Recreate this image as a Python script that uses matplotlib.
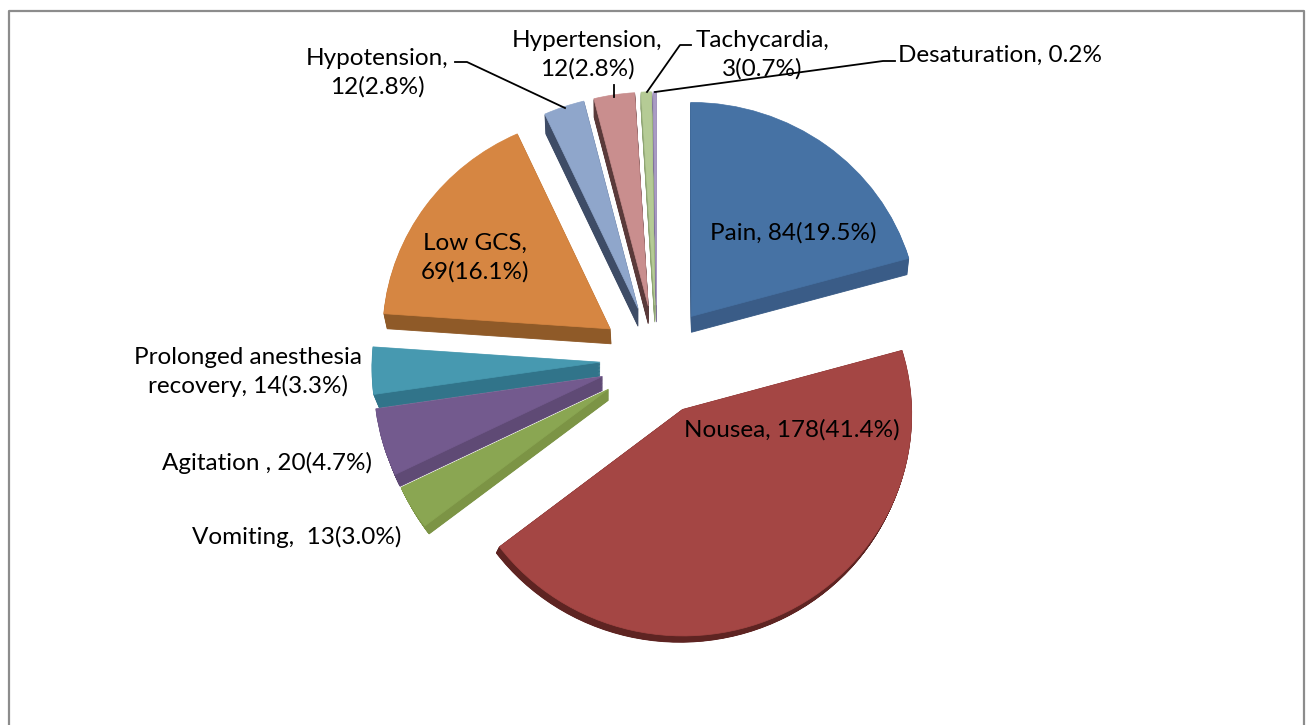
import matplotlib
matplotlib.use('Agg')
import numpy as np
import matplotlib.pyplot as plt
from matplotlib.transforms import Transform

plt.rcParams['font.family'] = ['Lato', 'DejaVu Sans']

# counts shown on the labels, the slices follow these
categories = ['Pain', 'Nousea', 'Vomiting', 'Agitation', 'Prolonged anesthesia recovery',
              'Low GCS', 'Hypotension', 'Hypertension', 'Tachycardia', 'Desaturation']
counts = [84, 178, 13, 20, 14, 69, 12, 12, 3, 1]

label_texts = ['Pain, 84(19.5%)', 'Nousea, 178(41.4%)', 'Vomiting,  13(3.0%)', 'Agitation , 20(4.7%)',
               'Prolonged anesthesia\nrecovery, 14(3.3%)', 'Low GCS,\n69(16.1%)', 'Hypotension,\n12(2.8%)',
               'Hypertension,\n12(2.8%)', 'Tachycardia,\n3(0.7%)', 'Desaturation, 0.2%']
label_pos = [(793, 233), (792, 430), (297, 537), (267, 463), (248, 372),
             (475, 258), (377, 73), (587, 55), (762, 55), (1000, 55)]

top_colors = ['#4672A4', '#A44644', '#8AA652', '#735A8E', '#4799B0',
              '#D68642', '#8FA6CB', '#C98E8E', '#B5CB95', '#A99BC4']
side_colors = ['#3A5C87', '#5E2422', '#7C9445', '#5F4A75', '#31748A',
               '#8F5A28', '#3E4C66', '#5A3A3A', '#8FA574', '#7F7399']
# how far each slice side goes down on screen in pixels, and how much its radius shrinks on the way
side_shift = [(0, 16), (-3, 6), (0, 11), (0, 14), (0, 14),
              (1, 15), (0, 18), (0, 18), (0, 17), (0, 17)]
side_shrink = [0.01, 0.0, 0.025, 0.025, 0.026, 0.012, 0.012, 0.005, 0.0, 0.0]

leaders = [[(455, 62), (467, 62), (565, 108)],
           [(614, 85), (614, 97)],
           [(691, 45), (680, 45), (647, 92)],
           [(895, 61), (883, 61), (655, 92)]]


class Tilt(Transform):
    # unit pie to image pixels, a flat pie seen a bit from above
    input_dims = 2
    output_dims = 2

    def transform_non_affine(self, values):
        v = np.asarray(values)
        w = 1 + 0.02 * v[:, 1]
        return np.column_stack([657 + 228 * v[:, 0] / w, 360 - 220 * v[:, 1] / w])


fig = plt.figure(figsize=(13.08, 7.25), dpi=100)
ax = fig.add_axes([0, 0, 1, 1])
tilt = Tilt() + ax.transData
explode = [0.25] * len(counts)

# sides first, as a stack of darker pies
steps = 18
for k in range(steps, 0, -1):
    wedges, _ = ax.pie(counts, explode=explode, colors=side_colors, startangle=90, counterclock=False,
                       wedgeprops={'transform': tilt, 'linewidth': 0.6})
    for w, s, r in zip(wedges, side_shift, side_shrink):
        cx, cy = w.center
        w.set_center((cx + k / steps * s[0] / 228, cy - k / steps * s[1] / 220))
        w.set_radius(1 - k / steps * r)
        w.set_edgecolor(w.get_facecolor())

wedges, _ = ax.pie(counts, explode=explode, colors=top_colors, startangle=90, counterclock=False,
                   wedgeprops={'transform': tilt, 'linewidth': 0.5})
for w in wedges:
    w.set_edgecolor(w.get_facecolor())

ax.set_aspect('auto')
ax.set_xlim(0, 1308)
ax.set_ylim(725, 0)
ax.axis('off')

for line in leaders:
    ax.plot([p[0] for p in line], [p[1] for p in line], color='black', lw=1.3)

for txt, pos in zip(label_texts, label_pos):
    ax.text(pos[0], pos[1], txt, ha='center', va='center', fontsize=17.5, color='black', linespacing=1.4)

# chart frame, open at the bottom
ax.plot([9, 9, 1304, 1304], [725, 11, 11, 725], color='#8C8C8C', lw=1.6, clip_on=False)

fig.savefig('out.png', dpi=100)
